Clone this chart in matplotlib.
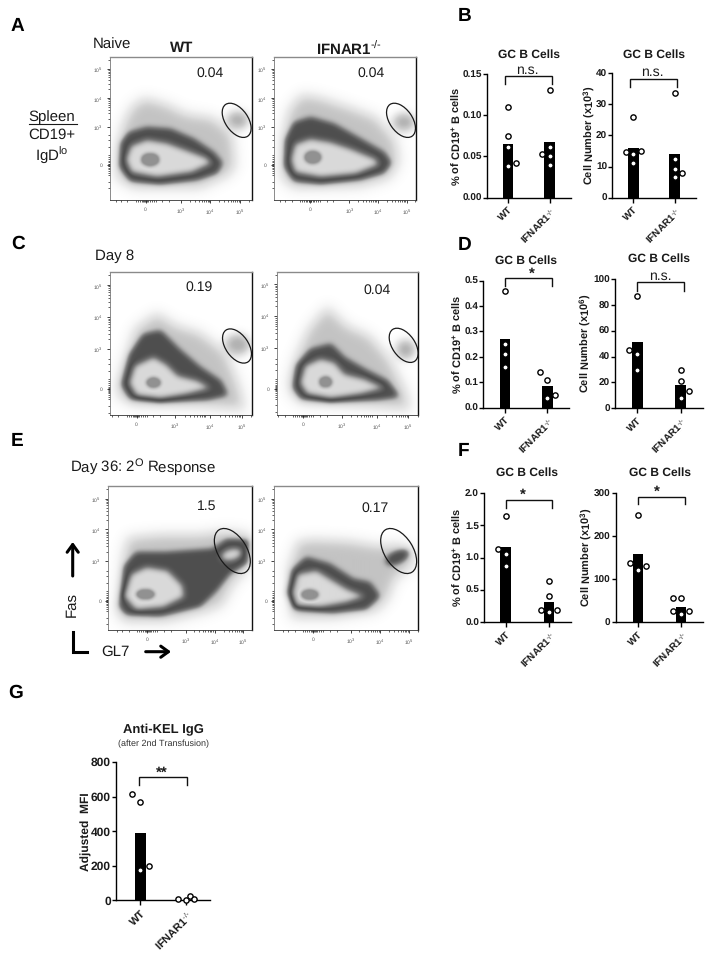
import numpy as np
import matplotlib
matplotlib.use('Agg')
import matplotlib.pyplot as plt
from matplotlib.path import Path
from matplotlib.patches import Ellipse
from matplotlib.ticker import FixedLocator

plt.rcParams['font.family'] = ['Liberation Sans', 'DejaVu Sans']
plt.rcParams['mathtext.fontset'] = 'custom'
plt.rcParams['mathtext.rm'] = 'Liberation Sans'
plt.rcParams['mathtext.bf'] = 'Liberation Sans:bold'
plt.rcParams['mathtext.it'] = 'Liberation Sans:italic'
plt.rcParams['mathtext.default'] = 'regular'
plt.rcParams['text.hinting'] = 'none'
plt.rcParams['text.hinting_factor'] = 1

W, H = 713, 955
CATS = ['WT', r'IFNAR1$^{\text{-/-}}$']

# ---------- bar chart values ----------
b_pct_wt = [0.11, 0.075, 0.062, 0.038, 0.042]
b_pct_ko = [0.13, 0.053, 0.061, 0.05, 0.04]
b_pct_mean = [0.065, 0.067]
b_num_wt = [26, 14.7, 14, 15, 11]
b_num_ko = [33.5, 12.5, 9.3, 6.5, 8]
b_num_mean = [16, 14]
d_pct_wt = [0.46, 0.25, 0.21, 0.16]
d_pct_ko = [0.14, 0.11, 0.05, 0.04]
d_pct_mean = [0.27, 0.085]
d_num_wt = [87, 45, 42, 30]
d_num_ko = [30, 21, 13.5, 8]
d_num_mean = [51, 18]
f_pct_wt = [1.65, 1.13, 1.06, 0.87]
f_pct_ko = [0.63, 0.40, 0.19, 0.16, 0.19]
f_pct_mean = [1.17, 0.31]
f_num_wt = [249, 138, 130, 121]
f_num_ko = [56, 56, 27, 20, 27]
f_num_mean = [158, 36]
g_wt = [617, 568, 200, 178]
g_ko = [8, 2, 24, 6]
g_mean = [390, 0]

# horizontal scatter of the points, in category units
b_pct_wt_dx = [0, 0, 0, 0, .18]
b_pct_ko_dx = [0, -.185, 0, 0, 0]
b_num_wt_dx = [0, -.185, 0, .18, 0]
b_num_ko_dx = [0, 0, 0, 0, .185]
d_pct_wt_dx = [0, 0, 0, 0]
d_pct_ko_dx = [-.18, 0, .18, 0]
d_num_wt_dx = [0, -.18, 0, 0]
d_num_ko_dx = [0, 0, .18, 0]
f_pct_wt_dx = [0, -.18, 0, 0]
f_pct_ko_dx = [0, 0, -.18, 0, .18]
f_num_wt_dx = [0, -.18, .18, 0]
f_num_ko_dx = [-.18, 0, -.18, 0, .18]
g_wt_dx = [-.18, 0, .18, 0]
g_ko_dx = [-.18, 0, .09, .18]

PCT = r'% of CD19$^{\mathbf{+}}$ B cells'
NUM3 = r'Cell Number (x10$^{\mathbf{3}}$)'
NUM6 = r'Cell Number (x10$^{\mathbf{6}}$)'

# layout (pixels): axis x, x end, y zero, y top, bar centres
bar_panels = [
    dict(box=(487.3, 570.7, 197.7, 74), c=(508, 549.7), mean=b_pct_mean, wt=b_pct_wt, ko=b_pct_ko, wdx=b_pct_wt_dx, kdx=b_pct_ko_dx,
         yt=[0, .05, .10, .15], fmt='%.2f', yl=PCT, ylx=456.7, title=(529, 55),
         br=(504.7, 552, 76.3, 84.3), sig=('n.s.', 527.3, 70)),
    dict(box=(612.3, 695.7, 197.7, 73), c=(633.3, 674.7), mean=b_num_mean, wt=b_num_wt, ko=b_num_ko, wdx=b_num_wt_dx, kdx=b_num_ko_dx,
         yt=[0, 10, 20, 30, 40], fmt='%d', yl=NUM3, ylx=589.5, title=(654, 55),
         br=(630, 677, 78.7, 86.7), sig=('n.s.', 652, 72)),
    dict(box=(483.3, 568.7, 407.7, 280.7), c=(505, 547.3), mean=d_pct_mean, wt=d_pct_wt, ko=d_pct_ko, wdx=d_pct_wt_dx, kdx=d_pct_ko_dx,
         yt=[0, .1, .2, .3, .4, .5], fmt='%.1f', yl=PCT, ylx=457.7, title=(526, 260.7),
         br=(504.7, 551.7, 277.7, 286), sig=('*', 531.7, 274)),
    dict(box=(615.3, 702.7, 408.3, 279), c=(637.3, 680.7), mean=d_num_mean, wt=d_num_wt, ko=d_num_ko, wdx=d_num_wt_dx, kdx=d_num_ko_dx,
         yt=[0, 20, 40, 60, 80, 100], fmt='%d', yl=NUM6, ylx=586, title=(659, 258.7),
         br=(637.3, 684, 282.3, 290.7), sig=('n.s.', 660.7, 276)),
    dict(box=(484.3, 570.7, 622, 493), c=(505.7, 549), mean=f_pct_mean, wt=f_pct_wt, ko=f_pct_ko, wdx=f_pct_wt_dx, kdx=f_pct_ko_dx,
         yt=[0, .5, 1, 1.5, 2], fmt='%.1f', yl=PCT, ylx=457.7, title=(527.3, 473),
         br=(505.7, 552.3, 500, 507.7), sig=('*', 523, 495)),
    dict(box=(615.7, 703, 622.3, 493), c=(638, 681), mean=f_num_mean, wt=f_num_wt, ko=f_num_ko, wdx=f_num_wt_dx, kdx=f_num_ko_dx,
         yt=[0, 100, 200, 300], fmt='%d', yl=NUM3, ylx=586.5, title=(659.7, 473),
         br=(638, 685.3, 496.7, 504.3), sig=('*', 657, 492)),
]
g_panel = dict(box=(116, 210, 900.3, 762), c=(140.3, 186), mean=g_mean, wt=g_wt, ko=g_ko, wdx=g_wt_dx, kdx=g_ko_dx,
               yt=[0, 200, 400, 600, 800], fmt='%d', yl='Adjusted  MFI', ylx=86.7, title=(163, 730),
               br=(139.3, 186.7, 777.3, 785.3), sig=('**', 162, 773), big=True)

# ---------- flow panels: outlines (3x crop coordinates) ----------
flow_panels = [
    dict(org=(0, 0), box=(330, 755, 170, 600), xt=[437, 543, 631, 720], yt=[495, 382, 294, 206],
         halo=[[(345,540),(345,440),(365,370),(390,320),(430,290),(500,310),(560,340),(640,350),(700,400),(710,500),(690,530),(600,570),(400,570)]],
         dark=[[(355,500),(360,430),(385,400),(440,385),(510,390),(580,420),(640,460),(665,490),(650,520),(590,540),(480,555),(390,545)]],
         light=[[(376,480),(392,438),(440,420),(500,430),(560,452),(615,473),(635,490),(575,518),(470,533),(393,518)]],
         core=[(450,480,30,22,0)], gate=(710,361,116,68,55), haze=[(712,362,38,32,0)], blobs=[]),
    dict(org=(0, 0), box=(821, 1248, 170, 600), xt=[930, 1048, 1135, 1220], yt=[495, 382, 294, 206],
         halo=[[(838,540),(840,420),(860,330),(900,280),(960,290),(1050,320),(1130,350),(1190,420),(1200,490),(1170,540),(1080,565),(880,570)]],
         dark=[[(848,500),(852,420),(880,370),(930,355),(1000,375),(1080,420),(1150,460),(1172,490),(1150,520),(1080,540),(960,555),(880,545)]],
         light=[[(870,480),(883,433),(930,417),(990,427),(1050,447),(1125,478),(1135,495),(1065,523),(960,533),(883,518)]],
         core=[(937,473,28,22,0)], gate=(1203,361,116,68,55), haze=[(1210,368,38,32,0)], blobs=[]),
    dict(org=(0, 225), box=(330, 755, 140, 570), xt=[410, 525, 630, 725], yt=[493, 372, 275, 180],
         halo=[[(345,480),(370,400),(400,310),(470,260),(530,300),(600,320),(680,380),(720,480),(740,560),(600,550),(400,545),(350,520)]],
         dark=[[(362,480),(385,390),(430,330),(480,320),(530,370),(600,430),(660,470),(680,510),(620,525),(480,535),(390,525)]],
         light=[[(386,475),(403,423),(460,397),(497,418),(532,453),(592,468),(630,490),(562,508),(480,523),(408,513)]],
         core=[(460,474,24,18,0)], gate=(711,363,116,68,55), haze=[(712,360,42,36,0)], blobs=[]),
    dict(org=(0, 225), box=(830, 1255, 140, 570), xt=[910, 1025, 1130, 1225], yt=[491, 369, 272, 178],
         halo=[[(860,470),(880,400),(920,310),(980,240),(1040,300),(1110,330),(1170,400),(1220,500),(1235,560),(1100,550),(900,540),(865,510)]],
         dark=[[(875,490),(885,420),(930,375),(990,360),(1030,400),(1100,440),(1160,470),(1195,515),(1130,525),(990,535),(900,525)]],
         light=[[(898,475),(913,423),(960,402),(1002,413),(1032,448),(1092,463),(1150,490),(1082,508),(990,523),(918,508)]],
         core=[(975,472,22,19,0)], gate=(1211,361,116,68,55), haze=[(1215,375,34,34,0)], blobs=[]),
    dict(org=(0, 450), box=(325, 755, 107, 540), xt=[442, 557, 645, 730], yt=[453, 333, 238, 146],
         halo=[[(345,490),(365,320),(380,260),(480,250),(600,250),(680,240),(755,250),(755,350),(700,410),(670,470),(620,490),(500,520),(370,520)]],
         dark=[[(355,470),(370,350),(410,310),(500,310),(640,300),(680,270),(750,270),(745,340),(690,370),(650,420),(600,470),(480,500),(380,495)]],
         light=[[(370,440),(393,373),(440,352),(502,362),(548,408),(553,442),(490,473),(408,481)]],
         core=[(437,434,30,18,0)], gate=(697,303,150,86,58), haze=[], blobs=[], lightblobs=[(695,315,32,17,-15)]),
    dict(org=(0, 450), box=(823, 1255, 107, 540), xt=[940, 1052, 1140, 1228], yt=[453, 333, 238, 146],
         halo=[[(860,360),(890,270),(940,265),(1050,270),(1140,285),(1200,280),(1250,300),(1245,350),(1190,390),(1170,450),(1130,490),(1000,510),(870,510)]],
         dark=[[(855,430),(875,360),(920,325),(990,345),(1060,390),(1110,400),(1140,440),(1100,480),(1000,490),(880,480)]],
         light=[[(873,430),(893,373),(950,362),(992,388),(1042,418),(1095,440),(1042,458),(960,473),(888,468)]],
         core=[(930,435,29,18,0)], gate=(1196,303,150,86,58), haze=[], blobs=[(1195,322,38,17,-25)]),
]
FLOW_TICK_LABELS = ['0', r'$10^{3}$', r'$10^{4}$', r'$10^{5}$']
GREY_LEVELS = [0, .25, .7, 1, 1.4, 1.8, 2, 2.4, 3, 3.5, 3.9]
GREY_VALUES = [255, 246, 222, 195, 125, 85, 78, 120, 218, 188, 145]

fig = plt.figure(figsize=(W / 100, H / 100), dpi=100, facecolor='white')


def ax_px(x0, x1, ytop, ybot):
    return fig.add_axes([x0 / W, 1 - ybot / H, (x1 - x0) / W, (ybot - ytop) / H])


def blur(a, s):
    r = int(3 * s)
    k = np.exp(-0.5 * (np.arange(-r, r + 1) / s) ** 2)
    k /= k.sum()
    a = np.apply_along_axis(lambda v: np.convolve(np.pad(v, r, mode='edge'), k, 'valid'), 0, a)
    a = np.apply_along_axis(lambda v: np.convolve(np.pad(v, r, mode='edge'), k, 'valid'), 1, a)
    return a


def flow(p):
    x0, x1, y0, y1 = p['box']
    ox, oy = p['org']
    ax = ax_px(ox + x0 / 3, ox + x1 / 3, oy + y0 / 3, oy + y1 / 3)
    xs = np.arange(x0, x1 + 1, 1.5)
    ys = np.arange(y0, y1 + 1, 1.5)
    X, Y = np.meshgrid(xs, ys)
    pts = np.c_[X.ravel(), Y.ravel()]

    def poly(lst):
        m = np.zeros(X.shape)
        for v in lst:
            m = np.maximum(m, Path(v + [v[0]]).contains_points(pts).reshape(X.shape).astype(float))
        return m

    def ell(lst):
        m = np.zeros(X.shape)
        for cx, cy, rx, ry, ang in lst:
            t = np.deg2rad(ang)
            u = (X - cx) * np.cos(t) + (Y - cy) * np.sin(t)
            v = -(X - cx) * np.sin(t) + (Y - cy) * np.cos(t)
            m = np.maximum(m, ((u / rx) ** 2 + (v / ry) ** 2 <= 1).astype(float))
        return m

    level = (blur(np.maximum(poly(p['halo']), ell([(b[0], b[1], b[2] * 1.3, b[3] * 1.3, b[4]) for b in p['blobs']])), 13)
             + 1.1 * blur(ell(p['haze']), 8) * (1 - blur(poly(p['halo']), 13))
             + blur(np.maximum(poly(p['dark']), ell(p['blobs'])), 6)
             + blur(np.maximum(poly(p['light']), ell(p.get('lightblobs', []))), 6)
             + blur(ell(p['core']), 3))
    img = np.interp(level, GREY_LEVELS, GREY_VALUES)
    ax.imshow(img, cmap='gray', vmin=0, vmax=255, extent=(x0, x1, y1, y0), aspect='auto', interpolation='bilinear')
    ax.set_xlim(x0, x1)
    ax.set_ylim(y1, y0)
    gx, gy, a, b, ang = p['gate']
    ax.add_patch(Ellipse((gx, gy), a, b, angle=ang, fill=False, ec='#1a1a1a', lw=0.9))
    ax.set_xticks(p['xt'])
    ax.set_xticklabels(FLOW_TICK_LABELS, fontsize=3.8, color='#555555')
    ax.set_yticks(p['yt'])
    ax.set_yticklabels(FLOW_TICK_LABELS, fontsize=3.8, color='#555555')
    ax.tick_params(length=2.2, width=0.6, color='#222222', pad=3)
    # minor ticks follow the decades of the biexponential axis
    for axis, t, sign, lim in ((ax.xaxis, p['xt'], 1, (x0, x1)), (ax.yaxis, p['yt'], -1, (y0, y1))):
        spacing = abs(t[3] - t[2])
        k = np.log10(np.arange(2, 10)) * spacing
        m = [t[1] + sign * d for d in k] + [t[2] + sign * d for d in k]
        m += [t[3] + sign * d for d in k[:3]]
        m += [t[0] + d for d in (-30, -24, -18, -12, -8, -4, -2, 2, 4, 8, 12, 18, 24, 30, -55, -75, -90, 50, 70)]
        m = [v for v in m if min(lim) < v < max(lim)]
        axis.set_minor_locator(FixedLocator(m))
    ax.tick_params(which='minor', length=1.2, width=0.5, color='#222222')
    for s, c, lw in (('top', '#8a8a8a', 1.0), ('right', '#111111', 1.0), ('left', '#777777', 0.6), ('bottom', '#333333', 0.6)):
        ax.spines[s].set_color(c)
        ax.spines[s].set_linewidth(lw)


def bars(p):
    xa, xe, y0, yt = p['box']
    c0, c1 = p['c']
    big = p.get('big', False)
    gap = c1 - c0
    ax = ax_px(xa, xe, yt, y0)
    ax.bar([0, 1], p['mean'], width=10.5 / gap, color='black', zorder=2)
    ax.plot(np.array(p['wdx']), p['wt'], 'o', ms=3.8, mfc='white', mec='black', mew=1.0, clip_on=False, zorder=3)
    ax.plot(1 + np.array(p['kdx']), p['ko'], 'o', ms=3.8, mfc='white', mec='black', mew=1.0, clip_on=False, zorder=3)
    ax.set_xlim((xa - c0) / gap, (xe - c0) / gap)
    ax.set_ylim(p['yt'][0], p['yt'][-1])
    ax.set_yticks(p['yt'])
    ax.set_yticklabels([p['fmt'] % v for v in p['yt']], fontsize=8.6 if big else 7, fontweight='bold', color='#1a1a1a')
    ax.set_xticks([0, 1])
    ax.set_xticklabels(CATS, rotation=45, ha='right', rotation_mode='anchor',
                       fontsize=7.6 if big else 7, fontweight='bold', color='#1a1a1a')
    ax.tick_params(axis='y', length=2.8, width=1, pad=1)
    ax.tick_params(axis='x', length=3.4, width=1, pad=2)
    for s in ('top', 'right'):
        ax.spines[s].set_visible(False)
    for s in ('left', 'bottom'):
        ax.spines[s].set_linewidth(1.0)
    ax.patch.set_alpha(0)


for p in flow_panels:
    flow(p)
for p in bar_panels + [g_panel]:
    bars(p)

ov = fig.add_axes([0, 0, 1, 1], zorder=10)
ov.set_xlim(0, W)
ov.set_ylim(H, 0)
ov.axis('off')


def T(x, y, s, size=11, ha='center', weight='normal', rot=0, color='#1a1a1a'):
    ov.text(x, y, s, fontsize=size, ha=ha, va='center', fontweight=weight, rotation=rot, color=color)


for s, x, y in (('A', 11, 26), ('B', 458, 16), ('C', 11, 244), ('D', 458, 245),
                ('E', 11, 441.5), ('F', 458, 451), ('G', 8, 693)):
    T(x, y, s, size=13.5, ha='left', weight='bold', color='black')

T(92.7, 45, 'Naive', ha='left')
T(181.7, 48, 'WT', weight='bold', size=11)
T(349, 48, r'IFNAR1$^{\text{-/-}}$', weight='bold', size=11)
T(210, 73, '0.04', size=10)
T(371, 73, '0.04', size=10)
T(52, 117, 'Spleen')
ov.plot([28.5, 76.5], [124, 124], color='#1a1a1a', lw=0.8)
T(52, 135, 'CD19+')
T(52, 155, r'IgD$^{lo}$')
T(94.7, 255.7, 'Day 8', ha='left')
T(199.3, 287, '0.19', size=10)
T(376.7, 290.7, '0.04', size=10)
T(70.3, 466.7, r'Day 36: 2$^{O}$ Response', ha='left')
T(206.7, 506.7, '1.5', size=10)
T(375, 508.7, '0.17', size=10)
T(71.7, 604, 'Fas', rot=90)
T(101, 651.7, 'GL7', ha='left')

arrow = dict(arrowstyle='->,head_length=0.55,head_width=0.4', lw=2.2, color='black', shrinkA=0, shrinkB=0)
ov.annotate('', xy=(72.7, 542), xytext=(72.7, 576), arrowprops=arrow)
ov.annotate('', xy=(171, 651.7), xytext=(145.7, 651.7), arrowprops=arrow)
ov.plot([73, 73, 86.7], [631.7, 651.5, 651.5], color='black', lw=2.2, solid_joinstyle='miter')

for p in bar_panels + [g_panel]:
    x0, x1, ytop, ybot = p['br']
    ov.plot([x0, x0, x1, x1], [ybot, ytop, ytop, ybot], color='#111111', lw=1.0, solid_joinstyle='miter')
    s, sx, sy = p['sig']
    T(sx, sy, s, size=9.8 if s == 'n.s.' else 10.5, weight='normal' if s == 'n.s.' else 'bold')
    y_mid = (p['box'][2] + p['box'][3]) / 2
    big = p.get('big', False)
    T(p['ylx'], y_mid + (0 if not big else 0.5), p['yl'], size=8.6 if big else 7.8, weight='bold', rot=90)
    if not big:
        T(p['title'][0], p['title'][1], 'GC B Cells', size=8.7, weight='bold')

T(163, 730, 'Anti-KEL IgG', size=9.6, weight='bold')
T(163, 744, '(after 2nd Transfusion)', size=6.4, color='#333333')

fig.savefig('out.png', dpi=100)
